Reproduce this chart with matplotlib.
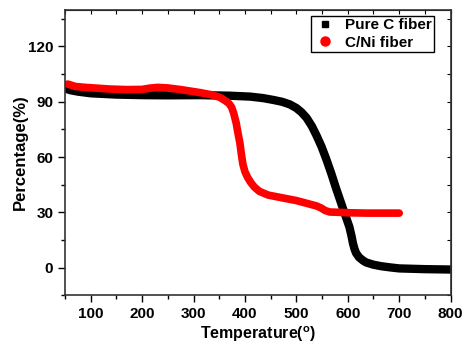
import numpy as np
from matplotlib import pyplot as plt

plt.rcParams['font.family'] = ['Liberation Sans', 'DejaVu Sans']
plt.rcParams['mathtext.fontset'] = 'custom'
plt.rcParams['mathtext.bf'] = 'Liberation Sans:bold'
plt.rcParams['mathtext.rm'] = 'Liberation Sans'

# Pure C fiber (black)
temp_c = [50, 60, 75, 100, 150, 200, 250, 312, 370, 410, 435, 455, 472, 487, 500,
          510, 520, 530, 539, 549, 558, 568, 577, 584, 590, 597, 603, 607, 610,
          613, 616, 622, 630, 636, 650, 665, 681, 700, 750, 800]
pct_c = [97.2, 96.3, 95.5, 94.6, 93.9, 93.6, 93.5, 93.6, 93.3, 92.8, 92.0, 91.0,
         90.0, 88.6, 86.6, 84.3, 81.2, 76.8, 71.8, 65.6, 59.0, 51.0, 43.2, 37.5,
         32.6, 27.0, 22.2, 17.5, 13.3, 10.2, 8.0, 5.6, 3.8, 2.8, 1.6, 0.8, 0.2,
         -0.4, -0.8, -1.0]

# C/Ni fiber (red)
temp_ni = [55, 62, 70, 85, 100, 137, 170, 200, 215, 230, 250, 275, 312, 335, 351,
           362, 369, 374, 378, 383, 386, 390, 393, 396, 400, 405, 411, 418, 428,
           445, 474, 500, 539, 548, 556, 565, 584, 600, 636, 670, 700]
pct_ni = [99.6, 99.0, 98.3, 97.9, 97.6, 96.9, 96.6, 96.7, 97.4, 97.8, 97.5, 96.6,
          95.0, 93.8, 92.4, 90.5, 89.0, 87.0, 83.8, 78.3, 73.5, 67.8, 61.5, 56.0,
          52.0, 49.0, 46.3, 43.8, 41.4, 39.4, 37.8, 36.4, 33.5, 32.4, 31.0, 30.2,
          30.0, 29.8, 29.6, 29.6, 29.6]

fig = plt.figure(figsize=(4.65, 3.43), dpi=100)
ax = fig.add_axes([0.14, 0.139, 0.829, 0.833])

ax.plot(temp_c, pct_c, color='black', lw=6.0, solid_capstyle='round',
        solid_joinstyle='round')
ax.plot(temp_ni, pct_ni, color='red', lw=5.5, solid_capstyle='round',
        solid_joinstyle='round')

# legend handles
h1, = ax.plot([], [], 's', color='black', ms=5, label='Pure C fiber')
h2, = ax.plot([], [], 'o', color='red', ms=6.5, label='C/Ni fiber')
ax.legend(handles=[h1, h2], loc='upper right', bbox_to_anchor=(434 / 465, 1 - 16 / 343),
          bbox_transform=fig.transFigure, borderaxespad=0,
          frameon=True, fancybox=False, edgecolor='black', framealpha=1,
          prop={'weight': 'bold', 'size': 11}, handlelength=1.6,
          handletextpad=0.5, borderpad=0.15, labelspacing=0.22)
ax.get_legend().get_frame().set_linewidth(1.0)

ax.set_xlim(50, 800)
ax.set_ylim(-10.5, 140)
ax.set_xticks([100, 200, 300, 400, 500, 600, 700, 800])
ax.set_xticks(np.arange(50, 801, 50), minor=True)
ax.set_yticks([0, 30, 60, 90, 120])
ax.set_yticks(np.arange(-15, 141, 15), minor=True)
ax.tick_params(which='both', direction='out', top=False, right=False,
               labelsize=11, width=1)
ax.tick_params(which='major', length=5)
ax.tick_params(which='minor', length=3)
sec_x = ax.secondary_xaxis('top')
sec_x.set_xticks(np.arange(50, 801, 50))
sec_x.tick_params(direction='in', length=3, labeltop=False)
sec_y = ax.secondary_yaxis('right')
sec_y.set_yticks(np.arange(-15, 141, 15))
sec_y.tick_params(direction='in', length=3, labelright=False)

for lbl in ax.get_xticklabels() + ax.get_yticklabels():
    lbl.set_fontweight('bold')

ax.set_xlabel(r'Temperature($^{\mathbf{o}}$)', fontweight='bold', fontsize=11.5, labelpad=2)
ax.set_ylabel('Percentage(%)', fontweight='bold', fontsize=12, labelpad=0)

for s in ax.spines.values():
    s.set_color('#333333')
    s.set_linewidth(1.2)

fig.savefig('out.png', dpi=100)
